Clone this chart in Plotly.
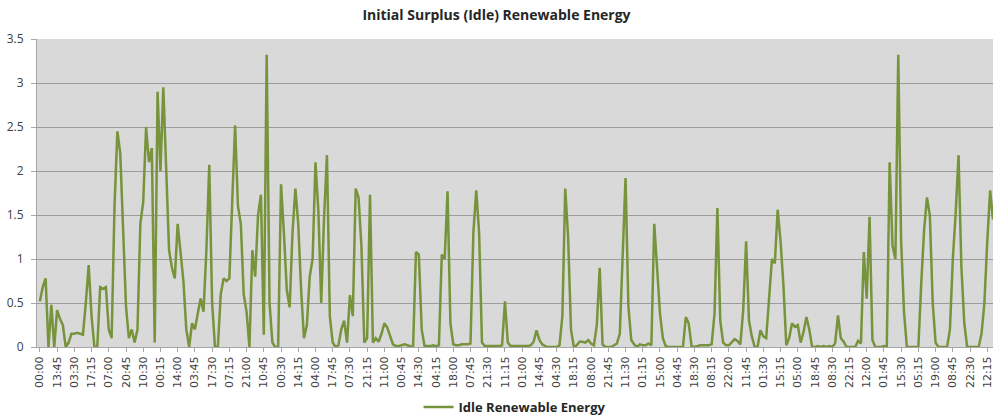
import plotly.graph_objects as go

# ---- data ----
tick_labels = [
    "00:00", "13:45", "03:30", "17:15", "07:00", "20:45", "10:30", "00:15",
    "14:00", "03:45", "17:30", "07:15", "21:00", "10:45", "00:30", "14:15",
    "04:00", "17:45", "07:30", "21:15", "11:00", "00:45", "14:30", "04:15",
    "18:00", "07:45", "21:30", "11:15", "01:00", "14:45", "04:30", "18:15",
    "08:00", "21:45", "11:30", "01:15", "15:00", "04:45", "18:30", "08:15",
    "22:00", "11:45", "01:30", "15:15", "05:00", "18:45", "08:30", "22:15",
    "12:00", "01:45", "15:30", "05:15", "19:00", "08:45", "22:30", "12:15",
]
POINTS_PER_TICK = 6  # samples drawn between two consecutive tick labels

idle_energy = [
    # 00:00 .. 10:30
    0.52, 0.68, 0.78, 0.00, 0.48, 0.00, 0.42, 0.32, 0.25, 0.00, 0.05, 0.15,
    0.15, 0.16, 0.15, 0.14, 0.50, 0.93, 0.35, 0.00, 0.00, 0.68, 0.66, 0.68,
    0.20, 0.10, 1.60, 2.45, 2.20, 1.20, 0.46, 0.10, 0.20, 0.05, 0.20, 1.40,
    # 10:30 .. 21:00
    1.65, 2.50, 2.10, 2.26, 0.05, 2.90, 2.00, 2.95, 1.90, 1.10, 0.90, 0.78,
    1.40, 1.10, 0.75, 0.20, 0.00, 0.27, 0.20, 0.38, 0.55, 0.40, 1.10, 2.07,
    0.50, 0.00, 0.00, 0.60, 0.78, 0.75, 0.78, 1.65, 2.52, 1.60, 1.40, 0.60,
    # 21:00 .. 07:30
    0.40, 0.00, 1.10, 0.80, 1.50, 1.73, 0.14, 3.32, 0.50, 0.05, 0.00, 0.00,
    1.85, 1.30, 0.65, 0.45, 1.30, 1.80, 1.40, 0.65, 0.10, 0.25, 0.80, 1.00,
    2.10, 1.55, 0.50, 1.48, 2.18, 0.35, 0.05, 0.00, 0.02, 0.20, 0.30, 0.05,
    # 07:30 .. 18:00
    0.59, 0.35, 1.80, 1.70, 1.15, 0.05, 0.10, 1.73, 0.05, 0.10, 0.06, 0.15,
    0.27, 0.22, 0.12, 0.03, 0.01, 0.01, 0.02, 0.03, 0.02, 0.01, 0.00, 1.08,
    1.05, 0.20, 0.01, 0.01, 0.01, 0.02, 0.01, 0.02, 1.05, 1.00, 1.77, 0.27,
    # 18:00 .. 04:30
    0.03, 0.02, 0.02, 0.03, 0.03, 0.03, 0.04, 1.30, 1.78, 1.30, 0.05, 0.01,
    0.01, 0.01, 0.01, 0.01, 0.01, 0.02, 0.52, 0.05, 0.01, 0.01, 0.01, 0.01,
    0.01, 0.01, 0.01, 0.02, 0.06, 0.19, 0.08, 0.03, 0.01, 0.00, 0.00, 0.00,
    # 04:30 .. 15:00
    0.00, 0.02, 0.35, 1.80, 1.25, 0.20, 0.00, 0.02, 0.06, 0.06, 0.05, 0.08,
    0.04, 0.02, 0.25, 0.90, 0.03, 0.00, 0.00, 0.00, 0.02, 0.04, 0.15, 1.06,
    1.92, 0.46, 0.08, 0.03, 0.00, 0.03, 0.02, 0.02, 0.04, 0.02, 1.40, 0.90,
    # 15:00 .. 01:30
    0.38, 0.10, 0.01, 0.00, 0.00, 0.00, 0.00, 0.00, 0.00, 0.34, 0.27, 0.01,
    0.00, 0.01, 0.02, 0.02, 0.02, 0.02, 0.03, 0.38, 1.58, 0.30, 0.05, 0.02,
    0.02, 0.06, 0.09, 0.07, 0.03, 0.42, 1.20, 0.30, 0.12, 0.00, 0.00, 0.19,
    # 01:30 .. 12:00
    0.12, 0.10, 0.50, 1.00, 0.95, 1.56, 1.20, 0.70, 0.02, 0.10, 0.27, 0.23,
    0.25, 0.05, 0.17, 0.34, 0.20, 0.00, 0.00, 0.01, 0.00, 0.01, 0.00, 0.01,
    0.00, 0.04, 0.36, 0.10, 0.06, 0.00, 0.00, 0.00, 0.00, 0.07, 0.04, 1.08,
    # 12:00 .. 12:15 (end)
    0.55, 1.48, 0.08, 0.00, 0.00, 0.00, 0.01, 0.00, 2.10, 1.15, 1.00, 3.32,
    1.20, 0.40, 0.00, 0.00, 0.00, 0.00, 0.00, 0.72, 1.33, 1.70, 1.50, 0.50,
    0.05, 0.00, 0.00, 0.00, 0.00, 0.20, 1.00, 1.52, 2.18, 0.90, 0.27, 0.00,
    0.00, 0.00, 0.00, 0.00, 0.15, 0.50, 1.20, 1.78, 1.45,
]

series_name = "Idle Renewable Energy"
title_text = "Initial Surplus (Idle) Renewable Energy"

x_index = list(range(len(idle_energy)))
tick_positions = [k * POINTS_PER_TICK for k in range(len(tick_labels))]

fig = go.Figure()
fig.add_trace(go.Scatter(
    x=x_index, y=idle_energy, mode="lines", name="<b>" + series_name + "</b>",
    line=dict(color="#77933c", width=2.5),
))

fig.update_layout(
    width=993, height=419,
    margin=dict(l=37, r=0, t=39, b=72, autoexpand=False),
    paper_bgcolor="white", plot_bgcolor="#d9d9d9",
    font=dict(family="DejaVu Sans", size=11, color="#404040"),
    title=dict(text="<b>" + title_text + "</b>", x=0.5, xref="container",
               y=1 - 15 / 419, yref="container", yanchor="middle",
               font=dict(family="Open Sans", size=14, color="#262626")),
    showlegend=True,
    legend=dict(orientation="h", x=0.5, xanchor="center", y=-0.195,
                yanchor="middle",
                font=dict(family="Open Sans", size=13, color="#262626"),
                itemwidth=30),
    xaxis=dict(range=[-1, len(idle_energy) - 1], tickmode="array",
               tickvals=tick_positions, ticktext=tick_labels, tickangle=-90,
               showgrid=False, showline=True, linecolor="#a6a6a6",
               ticks="outside", ticklen=4, tickcolor="#a6a6a6", zeroline=False,
               automargin=False, ticklabeloverflow="allow",
               tickfont=dict(size=11, color="#404040")),
    yaxis=dict(range=[0, 3.5], dtick=0.5, showgrid=True, gridcolor="#9c9c9c",
               gridwidth=1, showline=True, linecolor="#a6a6a6",
               ticks="outside", ticklen=5, tickcolor="#a6a6a6", zeroline=False,
               automargin=False, ticklabelstandoff=5,
               tickfont=dict(family="Open Sans", size=12, color="#404040")),
)

fig.write_html("out.html", config={"displayModeBar": False},
               post_script="document.body.style.margin='0';")
